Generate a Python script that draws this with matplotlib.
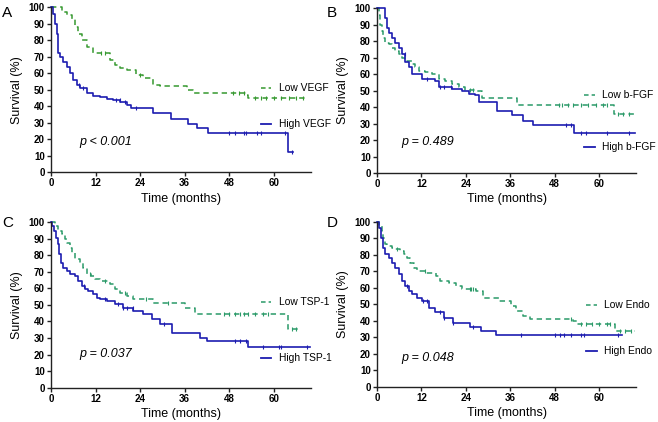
import numpy as np
import matplotlib
matplotlib.use("Agg")
from matplotlib import pyplot as plt

plt.rcParams['font.family'] = ['Liberation Sans', 'DejaVu Sans']

# ---- data (months, survival %) ----
# A: VEGF
a_low_t = [0, 2.9, 4.2, 5.6, 6.5, 7.4, 8.3, 9.6, 11.4, 15.9, 17.2, 18.6, 20.4, 23.0, 24.8, 27.5, 29.3, 36.5, 38.3, 52.6, 53.1, 69.2]
a_low_s = [100, 97, 95, 93, 88, 84, 80, 76, 72, 68, 65, 63, 62, 59, 57, 53, 52, 50, 48, 47, 45, 45]
a_low_c = [13.5, 14.5, 24, 49, 50.5, 52, 55, 56.5, 58, 60, 62, 64, 66, 68]
a_high_t = [0, 0.6, 1.1, 1.5, 2.0, 2.4, 3.3, 4.2, 5.1, 6.0, 6.9, 7.8, 9.6, 11.4, 13.2, 15.0, 16.8, 18.6, 20.4, 21.5, 27.5, 32.2, 37.0, 39.2, 42.3, 63.9, 65.2]
a_high_s = [100, 96, 90, 84, 72, 70, 67, 64, 60, 56, 53, 51, 48, 46, 45.5, 44.5, 43.5, 42.5, 41, 39, 36, 32, 29, 26.5, 23.5, 12, 12]
a_high_c = [7.5, 8.5, 17.5, 18.5, 20, 23, 48, 49.5, 52, 52.5, 55.5, 56.5, 63, 65]

# B: b-FGF
b_low_t = [0, 0.4, 0.8, 1.3, 1.7, 2.2, 3.1, 4.0, 4.9, 5.8, 6.7, 7.6, 9.4, 10.3, 11.2, 13.0, 14.8, 16.6, 18.4, 20.2, 22.0, 23.8, 26.5, 28.3, 37.7, 63.9, 69.4]
b_low_s = [100, 96, 90, 86, 82, 79, 78, 76, 74, 72, 70, 68, 66, 64, 62, 61, 60, 57, 56, 54, 52, 50.5, 49.5, 45.5, 41.3, 35.5, 35.5]
b_low_c = [25, 26, 49, 50, 51.5, 53, 55, 57, 59, 61, 62, 65, 66.5, 68]
b_high_t = [0, 2.2, 2.6, 3.1, 4.0, 4.9, 5.8, 6.7, 7.6, 8.5, 9.4, 12.1, 15.7, 16.6, 20.2, 22.9, 24.7, 26.5, 27.4, 32.3, 36.4, 39.5, 42.0, 53.1, 69.7]
b_high_s = [100, 94, 88, 85, 82, 79, 76, 72, 67, 64, 60, 57, 56, 52, 51, 50, 48, 47, 43, 37.5, 35, 31.5, 29, 24.2, 24.2]
b_high_c = [7.5, 13.5, 17, 18, 20, 51, 52.5, 55, 56.5, 62, 68]

# C: TSP-1
c_low_t = [0, 1.1, 2.0, 2.9, 3.8, 4.2, 5.1, 5.6, 6.5, 7.8, 8.7, 9.6, 10.9, 11.8, 13.2, 15.9, 17.2, 18.6, 20.4, 22.2, 27.5, 36.1, 38.7, 63.9, 67.0]
c_low_s = [100, 97.6, 94.6, 92.6, 89.5, 87.5, 84.5, 81.5, 77.5, 75.5, 72.4, 68.4, 67.4, 65.4, 64.4, 62.4, 59.4, 57.3, 55.3, 53.3, 51.3, 48.3, 44.3, 35.2, 35.2]
c_low_c = [10.5, 14.5, 20, 25.5, 31.5, 46.5, 48, 49.5, 51, 52, 53, 55, 57, 58.5, 65, 66]
c_high_t = [0, 0.4, 0.9, 1.3, 1.8, 2.2, 2.7, 3.3, 4.2, 5.1, 6.5, 7.4, 8.3, 9.1, 10.0, 11.4, 12.3, 13.2, 15.0, 17.2, 19.5, 22.2, 24.8, 27.1, 29.3, 32.5, 40.1, 41.9, 53.1, 69.7]
c_high_s = [100, 97.6, 94.6, 90.5, 86.5, 80.5, 75.5, 72.4, 70.4, 68.4, 67.4, 64.4, 61.4, 59.4, 58.3, 56.3, 54.3, 53.3, 52.3, 50.3, 48.3, 46.3, 44.3, 41.2, 38.2, 33.2, 30.2, 28.2, 24.5, 24.5]
c_high_c = [9, 14.5, 18, 19.5, 20.5, 22, 30.5, 49.5, 51, 52.5, 57, 61.5, 62, 69]

# D: Endo
d_low_t = [0, 0.5, 1.3, 1.7, 2.2, 2.6, 4.0, 4.9, 6.3, 7.2, 8.1, 9.0, 9.9, 10.8, 13.1, 15.8, 17.1, 19.4, 21.2, 23.0, 26.7, 28.5, 33.0, 36.2, 37.5, 39.3, 41.2, 52.9, 53.9, 64.3, 69.7]
d_low_s = [100, 97.6, 94.5, 90.5, 86.4, 85.4, 84.4, 83.4, 82.4, 80.4, 78.3, 75.3, 72.3, 70.2, 69.2, 67.2, 64.2, 63.2, 61.1, 59.1, 58.1, 54, 52, 49, 46, 43, 40.9, 39.9, 38.3, 33.8, 33.8]
d_low_c = [5.5, 13, 25, 25.5, 26, 52.5, 55, 56.5, 58, 60, 62, 63, 65.5, 67, 68.5]
d_high_t = [0, 0.5, 1.1, 1.5, 2.2, 3.1, 4.0, 4.9, 5.8, 6.7, 7.6, 8.5, 9.4, 10.8, 12.1, 14.0, 15.6, 18.0, 20.5, 25.0, 28.0, 32.1, 66.1]
d_high_s = [100, 96.6, 90.5, 84.4, 80.4, 78.3, 75.3, 72.3, 68.2, 64.2, 61.1, 58.1, 56.1, 54, 52, 48, 45.5, 42, 39, 36.5, 34, 31.5, 31.5]
d_high_c = [8, 12.5, 13.5, 17, 18, 20.5, 26, 39, 48, 49.5, 50.5, 52.5, 55, 56, 65]

panels = ['A', 'B', 'C', 'D']
low_names = ['Low VEGF', 'Low b-FGF', 'Low TSP-1', 'Low Endo']
high_names = ['High VEGF', 'High b-FGF', 'High TSP-1', 'High Endo']
p_texts = ['p < 0.001', 'p = 0.489', 'p = 0.037', 'p = 0.048']

lows = [(a_low_t, a_low_s, a_low_c), (b_low_t, b_low_s, b_low_c),
        (c_low_t, c_low_s, c_low_c), (d_low_t, d_low_s, d_low_c)]
highs = [(a_high_t, a_high_s, a_high_c), (b_high_t, b_high_s, b_high_c),
         (c_high_t, c_high_s, c_high_c), (d_high_t, d_high_s, d_high_c)]

green_cols = ['#35992f', '#2a9a68', '#2a9a68', '#2a9a68']
blue = '#1c1cb0'

# axes rectangles (figure fractions)
rects = [[0.0775, 0.592, 0.395, 0.391],
         [0.573, 0.590, 0.394, 0.391],
         [0.0775, 0.081, 0.395, 0.393],
         [0.573, 0.083, 0.394, 0.391]]
p_pos = [(7.5, 18), (6.5, 19), (7.5, 20.5), (6.5, 17.5)]
low_leg_y = [51, 47.5, 51.8, 49.6]
high_leg_y = [29.5, 15.6, 18, 21.8]
leg_x = [61.3, 60.8, 61.3, 61.3]


def surv_at(t, s, x):
    # value of the step curve at time x
    i = np.searchsorted(t, x, side='right') - 1
    return s[max(i, 0)]


def draw_curve(ax, t, s, c, col, ls):
    if ls == '--':
        ax.step(t, s, where='post', color=col, lw=1.1, ls='--', dashes=(3.5, 2.5), clip_on=False)
    else:
        ax.step(t, s, where='post', color=col, lw=1.2, clip_on=False)
    cy = [surv_at(t, s, x) for x in c]
    ax.plot(c, cy, ls='none', marker='|', ms=3.5, mew=0.8, color=col, clip_on=False)


fig = plt.figure(figsize=(6.58, 4.22), dpi=100)

for k in range(4):
    ax = fig.add_axes(rects[k])
    lt, ls_, lc = lows[k]
    ht, hs, hc = highs[k]
    draw_curve(ax, lt, ls_, lc, green_cols[k], '--')
    draw_curve(ax, ht, hs, hc, blue, '-')

    ax.set_xlim(0, 70)
    ax.set_ylim(0, 100)
    ax.set_xticks([0, 12, 24, 36, 48, 60])
    ax.set_yticks(range(0, 101, 10))
    for sp in ['top', 'right']:
        ax.spines[sp].set_visible(False)
    for sp in ['left', 'bottom']:
        ax.spines[sp].set_linewidth(1.0)
        ax.spines[sp].set_color('#222222')
    ax.tick_params(length=3, width=1.0, labelsize=7, pad=1.5, color='#222222')
    for lab in ax.get_xticklabels() + ax.get_yticklabels():
        lab.set_fontweight('bold')
    ax.set_xlabel('Time (months)', fontsize=9, labelpad=3)
    ax.set_ylabel('Survival (%)', fontsize=9, labelpad=4)

    ax.text(p_pos[k][0], p_pos[k][1], p_texts[k], fontsize=9, style='italic',
            va='center', ha='left')

    # legend entries at the right side
    x0 = leg_x[k]
    ax.plot([x0 - 4.8, x0 - 2.0], [low_leg_y[k]] * 2, color=green_cols[k], ls='--',
            dashes=(3, 2), lw=1.1, clip_on=False)
    ax.text(x0, low_leg_y[k], low_names[k], fontsize=7.4, va='center', ha='left', clip_on=False)
    ax.plot([x0 - 4.8, x0 - 2.0], [high_leg_y[k]] * 2, color=blue, lw=1.3, clip_on=False)
    ax.text(x0, high_leg_y[k], high_names[k], fontsize=7.4, va='center', ha='left', clip_on=False)

# panel letters
fig.text(0.003, 0.985, 'A', fontsize=11, va='top')
fig.text(0.497, 0.985, 'B', fontsize=11, va='top')
fig.text(0.003, 0.488, 'C', fontsize=11, va='top')
fig.text(0.497, 0.488, 'D', fontsize=11, va='top')

fig.savefig('out.png', dpi=100)
